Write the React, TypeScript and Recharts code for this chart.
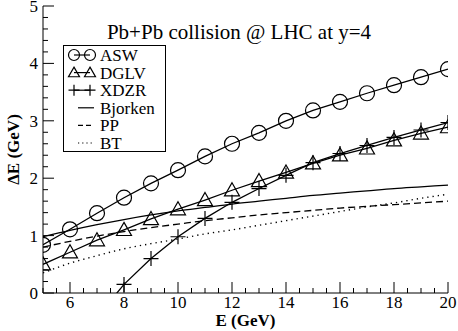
import React from 'react';
import { LineChart, Line, XAxis, YAxis, Legend } from 'recharts';

// beam energy E (GeV)
const energy = [5, 6, 7, 8, 9, 10, 11, 12, 13, 14, 15, 16, 17, 18, 19, 20];
// energy loss ΔE (GeV) per model
const asw = [0.84, 1.11, 1.39, 1.66, 1.91, 2.14, 2.38, 2.6, 2.79, 3.0, 3.18, 3.33, 3.48, 3.62, 3.76, 3.9];
const dglv = [0.5, 0.71, 0.92, 1.1, 1.29, 1.46, 1.62, 1.79, 1.95, 2.1, 2.26, 2.4, 2.52, 2.66, 2.78, 2.89];
const xdzr = [null, null, -0.42, 0.15, 0.6, 0.98, 1.3, 1.58, 1.82, 2.05, 2.27, 2.43, 2.57, 2.71, 2.84, 2.97];
const bjorken = [0.98, 1.09, 1.19, 1.28, 1.36, 1.43, 1.49, 1.55, 1.6, 1.65, 1.7, 1.74, 1.78, 1.82, 1.85, 1.88];
const pp = [0.8, 0.9, 0.99, 1.07, 1.14, 1.2, 1.26, 1.31, 1.36, 1.4, 1.44, 1.48, 1.51, 1.54, 1.57, 1.6];
const bt = [0.35, 0.52, 0.65, 0.77, 0.86, 0.94, 1.03, 1.1, 1.18, 1.26, 1.34, 1.42, 1.5, 1.57, 1.65, 1.72];

const xTicks = [5, 5.5, 6, 6.5, 7, 7.5, 8, 8.5, 9, 9.5, 10, 10.5, 11, 11.5, 12, 12.5, 13, 13.5, 14, 14.5, 15, 15.5, 16, 16.5, 17, 17.5, 18, 18.5, 19, 19.5, 20];
const xLabels = [6, 8, 10, 12, 14, 16, 18, 20];
const yTicks = [0, 0.2, 0.4, 0.6, 0.8, 1, 1.2, 1.4, 1.6, 1.8, 2, 2.2, 2.4, 2.6, 2.8, 3, 3.2, 3.4, 3.6, 3.8, 4, 4.2, 4.4, 4.6, 4.8, 5];
const yLabels = [0, 1, 2, 3, 4, 5];

const title = 'Pb+Pb collision @ LHC at y=4';

const data = energy.map((e, i) => ({
  e,
  asw: asw[i],
  dglv: dglv[i],
  xdzr: xdzr[i],
  bjorken: bjorken[i],
  pp: pp[i],
  bt: bt[i],
}));

const SERIF = 'Liberation Serif';
const MAJOR = 11;
const MINOR = 5;

// plain text helper, serif like the original grace plot
const T = (p: any) => (
  <text
    x={p.x}
    y={p.y}
    textAnchor={p.anchor || 'start'}
    transform={p.transform}
    fontFamily={SERIF}
    fontSize={p.size}
    fontWeight={p.bold ? 'bold' : 'normal'}
    fill="#000"
    style={{ fontFamily: `'${SERIF}'` }}
  >
    {p.children}
  </text>
);

const isLabel = (list: number[], v: number) => list.some((l) => Math.abs(l - v) < 1e-6);

const BottomTick = (p: any) => {
  const v = p.payload.value;
  const major = isLabel(xLabels, v);
  return (
    <g>
      <line x1={p.x} x2={p.x} y1={p.y} y2={p.y - (major ? MAJOR : MINOR)} stroke="#000" />
      {major && (
        <T x={p.x} y={p.y + 15} anchor="middle" size={17}>
          {v}
        </T>
      )}
    </g>
  );
};

const TopTick = (p: any) => {
  const major = isLabel(xLabels, p.payload.value);
  return <line x1={p.x} x2={p.x} y1={p.y} y2={p.y + (major ? MAJOR : MINOR)} stroke="#000" />;
};

const LeftTick = (p: any) => {
  const v = p.payload.value;
  const major = isLabel(yLabels, v);
  return (
    <g>
      <line x1={p.x} x2={p.x + (major ? MAJOR : MINOR)} y1={p.y} y2={p.y} stroke="#000" />
      {major && (
        <T x={p.x - 5} y={p.y + 6} anchor="end" size={17}>
          {v}
        </T>
      )}
    </g>
  );
};

const RightTick = (p: any) => {
  const major = isLabel(yLabels, p.payload.value);
  return <line x1={p.x} x2={p.x - (major ? MAJOR : MINOR)} y1={p.y} y2={p.y} stroke="#000" />;
};

const circle = (cx: number, cy: number, r: number) => (
  <circle cx={cx} cy={cy} r={r} fill="none" stroke="#000" strokeWidth={1.2} />
);
const triangle = (cx: number, cy: number, s: number) => (
  <path
    d={`M${cx},${cy - s} L${cx + s},${cy + s * 0.75} L${cx - s},${cy + s * 0.75} Z`}
    fill="none"
    stroke="#000"
    strokeWidth={1.2}
  />
);
const plus = (cx: number, cy: number, s: number) => (
  <path d={`M${cx - s},${cy} H${cx + s} M${cx},${cy - s} V${cy + s}`} fill="none" stroke="#000" strokeWidth={1.2} />
);

const makeDot = (kind: string) => (p: any) => {
  const { cx, cy, value, index } = p;
  if (value == null || value < 0 || cx == null || cy == null) return <g key={`${kind}-${index}`} />;
  return (
    <g key={`${kind}-${index}`}>
      {kind === 'circle' && circle(cx, cy, 7.5)}
      {kind === 'triangle' && triangle(cx, cy, 7.5)}
      {kind === 'plus' && plus(cx, cy, 7.5)}
    </g>
  );
};

const XLabel = (p: any) => {
  const vb = p.viewBox;
  return (
    <T x={vb.x + vb.width / 2} y={vb.y + 33} anchor="middle" size={17} bold>
      E (GeV)
    </T>
  );
};

const YLabel = (p: any) => {
  const vb = p.viewBox;
  const cy = vb.y + vb.height / 2;
  return (
    <T x={13} y={cy + 6} transform={`rotate(-90, 13, ${cy})`} anchor="middle" size={17} bold>
      ΔE (GeV)
    </T>
  );
};

const legendRows = [
  { name: 'ASW', kind: 'circle' },
  { name: 'DGLV', kind: 'triangle' },
  { name: 'XDZR', kind: 'plus' },
  { name: 'Bjorken', kind: 'solid' },
  { name: 'PP', kind: 'dashed' },
  { name: 'BT', kind: 'dotted' },
];

const LegendBox = () => (
  <svg width={104} height={108} style={{ display: 'block' }}>
    <rect x={0.5} y={0.5} width={102} height={106} fill="#fff" stroke="#000" />
    {legendRows.map((r, i) => {
      const y = 10 + i * 17.6;
      const withMarks = ['circle', 'triangle', 'plus'].includes(r.kind);
      return (
        <g key={r.name}>
          {withMarks ? (
            <g>
              <line x1={11} x2={27} y1={y} y2={y} stroke="#000" strokeWidth={1.2} />
              {r.kind === 'circle' && circle(11, y, 5.5)}
              {r.kind === 'circle' && circle(27, y, 5.5)}
              {r.kind === 'triangle' && triangle(11, y, 5.5)}
              {r.kind === 'triangle' && triangle(27, y, 5.5)}
              {r.kind === 'plus' && plus(11, y, 5.5)}
              {r.kind === 'plus' && plus(27, y, 5.5)}
            </g>
          ) : (
            <line
              x1={15}
              x2={31}
              y1={y}
              y2={y}
              stroke="#000"
              strokeWidth={1.2}
              strokeDasharray={r.kind === 'dashed' ? '5 3' : r.kind === 'dotted' ? '1.2 3' : undefined}
            />
          )}
          <T x={37} y={y + 6} size={17}>
            {r.name}
          </T>
        </g>
      );
    })}
  </svg>
);

export default function App() {
  return (
    <div
      style={{ position: 'absolute', left: 0, top: 0, width: 458, height: 331, background: '#fff', fontFamily: `'${SERIF}'` }}
    >
      <LineChart width={458} height={331} data={data} margin={{ top: 6, right: 10, left: 0, bottom: 0 }} style={{ fontFamily: `'${SERIF}'` }}>
        <XAxis
          dataKey="e"
          type="number"
          domain={[5, 20]}
          ticks={xTicks}
          interval={0}
          height={38}
          tickSize={0}
          tickMargin={0}
          tickLine={false}
          axisLine={{ stroke: '#000' }}
          tick={<BottomTick />}
          allowDataOverflow
          label={<XLabel />}
        />
        <XAxis
          xAxisId="top"
          dataKey="e"
          type="number"
          orientation="top"
          domain={[5, 20]}
          ticks={xTicks}
          interval={0}
          height={0}
          tickSize={0}
          tickMargin={0}
          tickLine={false}
          axisLine={{ stroke: '#000' }}
          tick={<TopTick />}
          allowDataOverflow
        />
        <YAxis
          type="number"
          domain={[0, 5]}
          ticks={yTicks}
          interval={0}
          width={43}
          tickSize={0}
          tickMargin={0}
          tickLine={false}
          axisLine={{ stroke: '#000' }}
          tick={<LeftTick />}
          allowDataOverflow
          label={<YLabel />}
        />
        <YAxis
          yAxisId="right"
          orientation="right"
          type="number"
          domain={[0, 5]}
          ticks={yTicks}
          interval={0}
          width={0}
          tickSize={0}
          tickMargin={0}
          tickLine={false}
          axisLine={{ stroke: '#000' }}
          tick={<RightTick />}
          allowDataOverflow
        />
        <Line dataKey="bjorken" type="monotone" stroke="#000" strokeWidth={1.3} dot={false} isAnimationActive={false} />
        <Line dataKey="pp" type="monotone" stroke="#000" strokeWidth={1.3} strokeDasharray="7 4" dot={false} isAnimationActive={false} />
        <Line dataKey="bt" type="monotone" stroke="#000" strokeWidth={1.4} strokeDasharray="1.3 4" dot={false} isAnimationActive={false} />
        <Line dataKey="asw" type="linear" stroke="#000" strokeWidth={1.3} dot={makeDot('circle')} isAnimationActive={false} />
        <Line dataKey="dglv" type="linear" stroke="#000" strokeWidth={1.3} dot={makeDot('triangle')} isAnimationActive={false} />
        <Line dataKey="xdzr" type="linear" stroke="#000" strokeWidth={1.3} dot={makeDot('plus')} isAnimationActive={false} />
        <Legend
          layout="horizontal"
          verticalAlign="middle"
          align="center"
          content={<LegendBox />}
          wrapperStyle={{ left: 63, top: 45, width: 104, height: 108 }}
        />
        <T x={239} y={39} anchor="middle" size={21}>
          {title}
        </T>
      </LineChart>
    </div>
  );
}
